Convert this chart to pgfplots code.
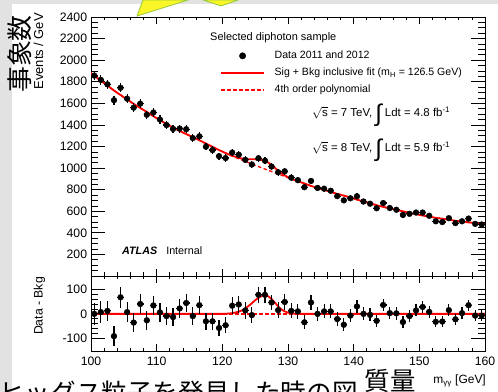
\documentclass[border=0pt]{standalone}
\usepackage{fontspec}
\setmainfont{Liberation Sans}
\newfontfamily\cjk{Noto Sans CJK JP}
\usepackage{pgfplots}
\usepackage{pgfplotstable}
\pgfplotsset{compat=1.18}
\definecolor{slidegray}{RGB}{226,226,226}
\definecolor{calloutyellow}{RGB}{250,246,40}
\definecolor{calloutgreen}{RGB}{150,200,60}

\pgfplotstableread{
x d e r
100.5 1857 43 0
101.5 1817 43 7
102.5 1776 42 12
103.5 1629 40 -90
104.5 1744 42 67
105.5 1643 41 7
106.5 1560 39 -35
107.5 1597 40 40
108.5 1494 39 -26
109.5 1515 39 34
110.5 1450 38 6
111.5 1399 37 -9
112.5 1363 37 -13
113.5 1366 37 22
114.5 1360 37 44
115.5 1278 36 -9
116.5 1294 36 35
117.5 1198 35 -30
118.5 1167 34 -30
119.5 1110 33 -57
120.5 1093 33 -46
121.5 1144 34 33
122.5 1124 34 38
123.5 1076 33 14
124.5 1033 32 -5
125.5 1091 33 77
126.5 1068 33 77
127.5 1014 32 46
128.5 961 31 15
129.5 970 31 48
130.5 911 30 12
131.5 888 30 10
132.5 823 29 -34
133.5 881 30 46
134.5 816 29 0
135.5 809 28 10
136.5 790 28 10
137.5 740 27 -21
138.5 701 26 -44
139.5 720 27 -7
140.5 738 27 30
141.5 690 26 0
142.5 670 26 -4
143.5 628 25 -28
144.5 676 26 36
145.5 630 25 3
146.5 614 25 2
147.5 566 24 -33
148.5 576 24 -9
149.5 588 24 14
150.5 588 24 28
151.5 558 24 8
152.5 507 23 -32
153.5 500 22 -31
154.5 536 23 15
155.5 490 22 -22
156.5 507 23 3
157.5 532 23 35
158.5 483 22 -7
159.5 477 22 -7
}\datatable

\pgfplotstableread{
x bkg sb sig
100 1880 1880 0
100.5 1857 1857 0
101.5 1810 1810 0
102.5 1764 1764 0
103.5 1719 1719 0
104.5 1677 1677 0
105.5 1636 1636 0
106.5 1595 1595 0
107.5 1557 1557 0
108.5 1520 1520 0
109.5 1481 1481 0
110.5 1444 1444 0
111.5 1408 1408 0
112.5 1376 1376 0
113.5 1344 1344 0
114.5 1315 1315 0
115.5 1287 1287 0
116.5 1258 1258 0
117.5 1228 1228 0
118.5 1197 1197 0
119.5 1167 1167 0
120 1153 1153 0
120.5 1139 1139.5 0.5
121 1125 1126.5 1.5
121.5 1111 1114 3
122 1098.5 1104 5.5
122.5 1086 1095 9
123 1074 1088 14
123.5 1062 1084 22
124 1050 1082 32
124.5 1038 1081 43
125 1026 1081 55
125.5 1014 1079 65
126 1002.5 1074.5 72
126.5 991 1066 75
127 979.5 1050.5 71
127.5 968 1028 60
128 957 1002.5 45.5
128.5 946 976 30
129 934 952 18
129.5 922 932 10
130 910.5 915.5 5
130.5 899 901 2
131 888.5 889.2 0.7
131.5 878 878.2 0.2
132 867.5 867.5 0
132.5 857 857 0
133.5 835 835 0
134.5 816 816 0
135.5 799 799 0
136.5 780 780 0
137.5 761 761 0
138.5 745 745 0
139.5 727 727 0
140.5 708 708 0
141.5 690 690 0
142.5 674 674 0
143.5 656 656 0
144.5 640 640 0
145.5 627 627 0
146.5 612 612 0
147.5 599 599 0
148.5 585 585 0
149.5 574 574 0
150.5 560 560 0
151.5 550 550 0
152.5 539 539 0
153.5 531 531 0
154.5 521 521 0
155.5 512 512 0
156.5 504 504 0
157.5 497 497 0
158.5 490 490 0
159.5 484 484 0
160 481 481 0
}\curvetable

\pgfplotsset{
  atlas/.style={
    scale only axis, width=394bp,
    xmin=100, xmax=160,
    tick align=inside, xtick pos=both, ytick pos=both,
    axis line style={black, line width=0.9bp},
    major tick length=14bp, minor tick length=7bp,
    xtick style={black, line width=0.7bp, /pgfplots/major tick length=7bp, /pgfplots/minor tick length=3.5bp},
    ytick style={black, line width=0.7bp},
    xtick={100,110,...,160}, minor x tick num=4,
    ticklabel style={font=\fontsize{12.3}{14}\selectfont, inner sep=0pt},
    yticklabel style={xshift=-3.7bp},
    xticklabel style={yshift=-5.5bp},
    clip=true,
  },
  datastyle/.style={black, only marks, mark=*, mark size=2.9bp,
    error bars/.cd, x dir=both, x fixed=0.5, y dir=both, y explicit,
    error mark=none, error bar style={line width=1.2bp, black}},
  legline/.style={legend image code/.code={\draw[##1] (0bp,0bp) -- (43bp,0bp);}},
  legmark/.style={legend image code/.code={\draw[##1] plot coordinates {(21.5bp,0bp)};}},
}

\begin{document}
\begin{tikzpicture}
\useasboundingbox (0,0) rectangle (498bp,392bp);
\fill[slidegray] (0,0) rectangle (498bp,392bp);
\fill[white] (12bp,0) rectangle (498bp,388bp);
\filldraw[fill=calloutyellow, draw=calloutgreen, line width=0.8bp] (137bp,376bp) -- (143bp,392bp) -- (188bp,392bp) -- cycle;
\filldraw[fill=calloutyellow, draw=calloutgreen, line width=0.8bp] (203bp,392bp) -- (221bp,386bp) -- (238bp,392bp) -- cycle;

\begin{axis}[atlas, height=259bp, at={(91bp,116bp)}, anchor=south west,
  ymin=0, ymax=2400,
  ytick={0,200,...,2400},
  yticklabels={,200,400,600,800,1000,1200,1400,1600,1800,2000,2200,2400},
  minor y tick num=3,
  xticklabels={},
  legend style={at={(0.3274,0.8707)}, anchor=north west, draw=none, fill=none,
    font=\fontsize{10.6}{12}\selectfont, inner sep=0pt, row sep=6.8bp,
    nodes={inner sep=0pt, text height=7.8bp, text depth=2.5bp},
    /tikz/every odd column/.append style={column sep=9.7bp}},
  legend cell align=left,
]
\addlegendimage{legmark, black, only marks, mark=*, mark size=3.2bp}
\addlegendentry{Data 2011 and 2012}
\addlegendimage{legline, red, line width=1.8bp}
\addlegendentry{Sig + Bkg inclusive fit (m\textsubscript{H} = 126.5 GeV)}
\addlegendimage{legline, red, line width=1.3bp, dash pattern=on 3.5bp off 2.5bp}
\addlegendentry{4th order polynomial}
\addplot[red, line width=1.3bp, dash pattern=on 3.5bp off 2.5bp, forget plot] table[x=x, y=bkg] {\curvetable};
\addplot[red, line width=1.8bp, forget plot] table[x=x, y=sb] {\curvetable};
\addplot[forget plot, datastyle] table[x=x, y=d, y error=e] {\datatable};
\end{axis}

\begin{axis}[atlas, height=75bp, at={(91bp,41bp)}, anchor=south west,
  ymin=-150, ymax=153,
  ytick={-100,0,100}, yticklabels={-100,0,100},
  minor y tick num=4,
  xticklabels={100,110,120,130,140,150,160},
]
\addplot[red, line width=1.3bp, dash pattern=on 3.5bp off 2.5bp] coordinates {(100,0) (160,0)};
\addplot[red, line width=1.8bp] table[x=x, y=sig] {\curvetable};
\addplot[datastyle] table[x=x, y=r, y error=e] {\datatable};
\end{axis}

\node[anchor=base west, font=\fontsize{11}{13}\selectfont, inner sep=0pt] at (210bp,351.5bp) {Selected diphoton sample};
\node[anchor=base west, font=\fontsize{11.5}{13}\selectfont, inner sep=0pt] at (312bp,275.5bp)
  {\(\sqrt{\mbox{s}}\) = 7 TeV,\hspace{3bp}\raisebox{-5bp}{\fontsize{24}{24}\selectfont ∫}\hspace{3bp}Ldt = 4.8 fb\textsuperscript{-1}};
\node[anchor=base west, font=\fontsize{11.5}{13}\selectfont, inner sep=0pt] at (312bp,240.5bp)
  {\(\sqrt{\mbox{s}}\) = 8 TeV,\hspace{3bp}\raisebox{-5bp}{\fontsize{24}{24}\selectfont ∫}\hspace{3bp}Ldt = 5.9 fb\textsuperscript{-1}};
\node[anchor=base west, font=\fontsize{10.8}{13}\selectfont, inner sep=0pt] at (122bp,137.5bp)
  {\textbf{\textit{ATLAS}}\hspace{9bp}Internal};

\node[rotate=90, anchor=center, font=\cjk\fontsize{26}{26}\selectfont, inner sep=0pt] at (20bp,338bp) {事象数};
\node[rotate=90, anchor=base east, font=\fontsize{13}{13}\selectfont, inner sep=0pt] at (43bp,379bp) {Events / GeV};
\node[rotate=90, anchor=base, font=\fontsize{12.3}{13}\selectfont, inner sep=0pt] at (42.5bp,86bp) {Data - Bkg};
\node[anchor=base east, font=\fontsize{12}{13}\selectfont, inner sep=0pt] at (486bp,8.5bp) {m\textsubscript{γγ} [GeV]};

\begin{scope}
\clip (0,0) rectangle (498bp,392bp);
\node[anchor=base, font=\cjk\fontsize{25.5}{26}\selectfont, inner sep=0pt] at (390bp,1.5bp) {質量};
\node[anchor=base west, font=\cjk\fontsize{25.7}{26}\selectfont, inner sep=0pt] at (-1bp,-10bp) {ヒッグス粒子を発見した時の図};
\end{scope}
\end{tikzpicture}
\end{document}
